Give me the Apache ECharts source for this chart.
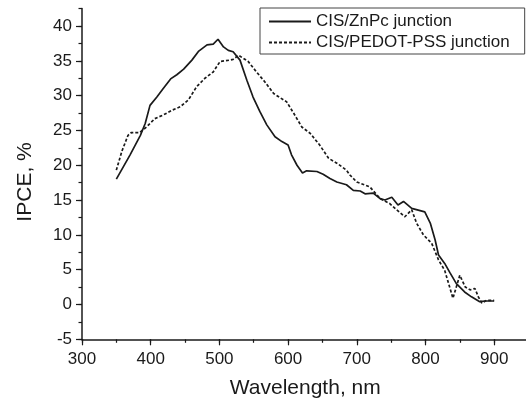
<!DOCTYPE html>
<html>
<head>
<meta charset="utf-8">
<script src="https://cdn.jsdelivr.net/npm/echarts@6/dist/echarts.min.js"></script>
<style>
  html, body { margin: 0; padding: 0; background: #fff; }
  #chart { width: 526px; height: 401px; }
</style>
</head>
<body>
<div id="chart"></div>
<script>
const seriesNames = ['CIS/ZnPc junction', 'CIS/PEDOT-PSS junction']

// CIS/ZnPc junction (solid)
const znpcWave = [350, 370, 385, 392, 399, 409, 418, 429, 438, 448, 460, 470, 482, 491, 498, 506, 513, 520, 530, 540,
  549, 559, 569, 581, 591, 600, 605, 613, 621, 627, 642, 651, 661, 671, 685, 695, 705, 712, 724, 734,
  741, 751, 760, 768, 780, 799, 807, 814, 819, 828, 836, 845, 857, 867, 879, 887, 900]
const znpcIpce = [18.0, 21.5, 24.3, 26.0, 28.6, 29.8, 31.0, 32.4, 33.0, 33.8, 35.1, 36.4, 37.3, 37.4, 38.1, 37.0, 36.5, 36.3, 35.1, 32.2,
  29.8, 27.7, 25.8, 24.1, 23.4, 22.9, 21.5, 20.0, 18.9, 19.2, 19.1, 18.7, 18.1, 17.6, 17.2, 16.4, 16.3, 15.9, 16.0, 15.2,
  15.0, 15.4, 14.3, 14.8, 13.8, 13.3, 11.7, 9.3, 7.1, 5.9, 4.5, 3.0, 1.8, 1.1, 0.4, 0.5, 0.5]

// CIS/PEDOT-PSS junction (dashed)
const pedotWave = [350, 358, 367, 372, 384, 394, 406, 418, 431, 443, 455, 467, 479, 491, 501, 515, 520, 528, 542, 554,
  566, 579, 598, 608, 620, 632, 646, 659, 671, 685, 690, 700, 719, 734, 748, 758, 770, 780, 787, 797,
  809, 819, 828, 840, 850, 858, 865, 872, 877, 882, 889, 900]
const pedotIpce = [19.3, 22.0, 24.3, 24.7, 24.7, 25.5, 26.7, 27.2, 27.9, 28.4, 29.4, 31.3, 32.5, 33.4, 34.9, 35.1, 35.2, 35.8, 34.9, 33.4,
  32.0, 30.3, 29.1, 27.5, 25.5, 24.6, 22.9, 21.0, 20.3, 19.3, 18.6, 17.6, 16.9, 15.2, 14.5, 13.6, 12.6, 13.6, 11.7, 10.0,
  8.8, 6.4, 4.9, 0.9, 4.2, 2.5, 2.1, 2.3, 1.1, 0.2, 0.6, 0.6]

const xTicks = [300, 400, 500, 600, 700, 800, 900]
const yTicks = [-5, 0, 5, 10, 15, 20, 25, 30, 35, 40]

const font = 'Liberation Sans, Arial, Helvetica, sans-serif'
const ink = '#1a1a1a'

const pairs = (xs, ys) => xs.map((x, i) => [x, ys[i]])

const chart = echarts.init(document.getElementById('chart'), null, { renderer: 'canvas' })

const baseX = {
  type: 'value',
  position: 'bottom',
  min: 300,
  max: 950,
  splitLine: { show: false },
}
const baseY = {
  type: 'value',
  position: 'left',
  min: -5,
  max: 42.5,
  splitLine: { show: false },
}

chart.setOption({
  animation: false,
  backgroundColor: '#fff',
  grid: { left: 82, right: -2.5, top: 8.6, bottom: 61.7, outerBoundsMode: 'none' },
  legend: {
    orient: 'vertical',
    left: 260,
    top: 8,
    padding: [5, 15, 3, 8],
    itemGap: 4,
    itemWidth: 42,
    itemHeight: 14,
    borderColor: '#444',
    borderWidth: 1,
    itemStyle: { color: 'transparent', borderWidth: 0, opacity: 0 },
    textStyle: { fontFamily: font, fontSize: 17, color: ink },
    data: seriesNames,
  },
  xAxis: [
    {
      ...baseX,
      interval: 100,
      name: 'Wavelength, nm',
      nameLocation: 'middle',
      nameGap: 38,
      nameTextStyle: { fontFamily: font, fontSize: 21, color: ink },
      axisLine: { onZero: false, lineStyle: { color: ink, width: 1.5 } },
      axisTick: { length: 6, lineStyle: { color: ink, width: 1.2 }, customValues: xTicks },
      axisLabel: { fontFamily: font, fontSize: 17, color: ink, margin: 12, customValues: xTicks },
    },
    {
      ...baseX,
      interval: 50,
      axisLine: { show: false, onZero: false },
      axisTick: { length: 3.5, lineStyle: { color: ink, width: 1.2 } },
      axisLabel: { show: false },
    },
  ],
  yAxis: [
    {
      ...baseY,
      interval: 5,
      name: 'IPCE, %',
      nameLocation: 'middle',
      nameGap: 46,
      nameTextStyle: { fontFamily: font, fontSize: 21, color: ink, padding: [0, 16, 0, 0] },
      axisLine: { show: true, onZero: false, lineStyle: { color: ink, width: 1.5 } },
      axisTick: { show: true, length: 6, lineStyle: { color: ink, width: 1.2 }, customValues: yTicks },
      axisLabel: { fontFamily: font, fontSize: 17, color: ink, margin: 10, customValues: yTicks },
    },
    {
      ...baseY,
      interval: 2.5,
      axisLine: { show: false, onZero: false },
      axisTick: { show: true, length: 3.5, lineStyle: { color: ink, width: 1.2 } },
      axisLabel: { show: false },
    },
  ],
  series: [
    {
      name: seriesNames[0],
      type: 'line',
      symbol: 'none',
      data: pairs(znpcWave, znpcIpce),
      lineStyle: { color: ink, width: 1.7 },
      itemStyle: { color: ink },
    },
    {
      name: seriesNames[1],
      type: 'line',
      symbol: 'none',
      data: pairs(pedotWave, pedotIpce),
      lineStyle: { color: ink, width: 1.7, type: [3, 2] },
      itemStyle: { color: ink },
    },
  ],
})
</script>
</body>
</html>
